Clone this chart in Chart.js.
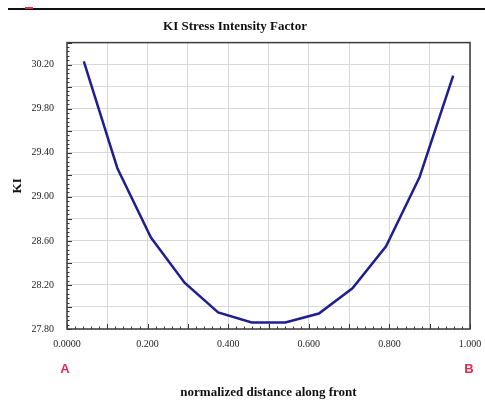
<!DOCTYPE html>
<html>
<head>
<meta charset="utf-8">
<script src="https://cdn.jsdelivr.net/npm/chart.js@4"></script>
<style>
    html, body { margin: 0; padding: 0; background: #fff; }
    #wrap { width: 485px; height: 401px; position: relative; }
</style>
</head>
<body>
<div id="wrap"><canvas id="kiChart"></canvas></div>
<script>
// --- DATA ---
const positions = [0.0417, 0.125, 0.2083, 0.2917, 0.375, 0.4583, 0.5417, 0.625, 0.7083, 0.7917, 0.875, 0.9583];
const kiValues = [30.23, 29.26, 28.63, 28.22, 27.95, 27.86, 27.86, 27.94, 28.17, 28.55, 29.18, 30.10];
const xTickLabels = ['0.0000', '0.200', '0.400', '0.600', '0.800', '1.000'];
const yTickLabels = ['27.80', '28.20', '28.60', '29.00', '29.40', '29.80', '30.20'];
const endLabels = ['A', 'B'];

const serif = "'Liberation Serif', 'Times New Roman', serif";

// frame, inward tick marks, top rule and A/B markers
const decorations = {
    id: 'decorations',
    afterDatasetsDraw(chart) {
        const { ctx, chartArea: a, scales } = chart;
        ctx.save();
        ctx.strokeStyle = '#333';
        ctx.lineWidth = 1;

        // x ticks, pointing up into the plot
        scales.x.ticks.forEach((t, i) => {
            const px = Math.round(scales.x.getPixelForValue(t.value)) + 0.5;
            const len = i % 5 === 0 ? 5 : 2.5;
            ctx.beginPath();
            ctx.moveTo(px, a.bottom);
            ctx.lineTo(px, a.bottom - len);
            ctx.stroke();
        });
        // y ticks, pointing right into the plot
        scales.y.ticks.forEach((t, i) => {
            const py = Math.round(scales.y.getPixelForValue(t.value)) + 0.5;
            const len = i % 5 === 0 ? 5 : 2.5;
            ctx.beginPath();
            ctx.moveTo(a.left, py);
            ctx.lineTo(a.left + len, py);
            ctx.stroke();
        });

        // plot frame
        ctx.lineWidth = 1.5;
        ctx.strokeStyle = '#3a3a3a';
        ctx.strokeRect(a.left, a.top, a.right - a.left, a.bottom - a.top);

        // rule across the top of the figure
        ctx.lineWidth = 2;
        ctx.strokeStyle = '#111';
        ctx.beginPath();
        ctx.moveTo(8, 9);
        ctx.lineTo(485, 9);
        ctx.stroke();
        ctx.strokeStyle = '#e03040';
        ctx.beginPath();
        ctx.moveTo(25, 8);
        ctx.lineTo(33, 8);
        ctx.stroke();

        // A / B end markers
        ctx.fillStyle = '#e8284e';
        ctx.font = "bold 13px 'Liberation Sans', Arial, sans-serif";
        ctx.textAlign = 'center';
        ctx.textBaseline = 'middle';
        ctx.fillText(endLabels[0], scales.x.getPixelForValue(0) - 2, 369);
        ctx.fillText(endLabels[1], scales.x.getPixelForValue(1) - 1, 369);
        ctx.restore();
    }
};

new Chart(document.getElementById('kiChart'), {
    type: 'line',
    data: {
        datasets: [{
            data: positions.map((x, i) => ({ x: x, y: kiValues[i] })),
            borderColor: '#1f1f8f',
            borderWidth: 2.5,
            pointRadius: 0,
            tension: 0,
            fill: false
        }]
    },
    options: {
        responsive: true,
        maintainAspectRatio: false,
        animation: false,
        layout: { padding: { left: 0, right: 15, top: 0, bottom: 0 } },
        plugins: {
            legend: { display: false },
            tooltip: { enabled: false },
            title: {
                display: true,
                text: 'KI Stress Intensity Factor',
                color: '#111',
                font: { family: serif, size: 13, weight: 'bold' },
                padding: { top: 19, bottom: 8 }
            }
        },
        scales: {
            x: {
                type: 'linear',
                min: 0,
                max: 1,
                afterFit: (scale) => {
                    scale.height = 72;
                    scale.paddingLeft = 0;
                    scale.paddingRight = 0;
                },
                afterBuildTicks: (scale) => {
                    const t = [];
                    for (let i = 0; i <= 50; i++) t.push({ value: i / 50 });
                    scale.ticks = t;
                },
                ticks: {
                    autoSkip: false,
                    maxRotation: 0,
                    padding: 9,
                    color: '#222',
                    font: { family: serif, size: 10 },
                    callback: (v, i) => (i % 10 === 0 ? xTickLabels[i / 10] : '')
                },
                grid: {
                    drawTicks: false,
                    color: (c) => (c.index % 5 === 0 ? '#d8d8d8' : 'rgba(0,0,0,0)')
                },
                border: { display: false },
                title: {
                    display: true,
                    text: 'normalized distance along front',
                    color: '#111',
                    font: { family: serif, size: 13, weight: 'bold' },
                    padding: { top: 0, bottom: 1 }
                }
            },
            y: {
                type: 'linear',
                min: 27.8,
                max: 30.4,
                afterFit: (scale) => { scale.width = 67; },
                afterBuildTicks: (scale) => {
                    const t = [];
                    for (let i = 0; i <= 65; i++) t.push({ value: 27.8 + i * 0.04 });
                    scale.ticks = t;
                },
                ticks: {
                    autoSkip: false,
                    padding: 13,
                    color: '#222',
                    font: { family: serif, size: 10 },
                    callback: (v, i) => (i % 10 === 0 ? yTickLabels[i / 10] : '')
                },
                grid: {
                    drawTicks: false,
                    color: (c) => (c.index % 5 === 0 ? '#d8d8d8' : 'rgba(0,0,0,0)')
                },
                border: { display: false },
                title: {
                    display: true,
                    text: 'KI',
                    color: '#111',
                    font: { family: serif, size: 13, weight: 'bold' },
                    padding: { top: 10, bottom: 0 }
                }
            }
        }
    },
    plugins: [decorations]
});
</script>
</body>
</html>
